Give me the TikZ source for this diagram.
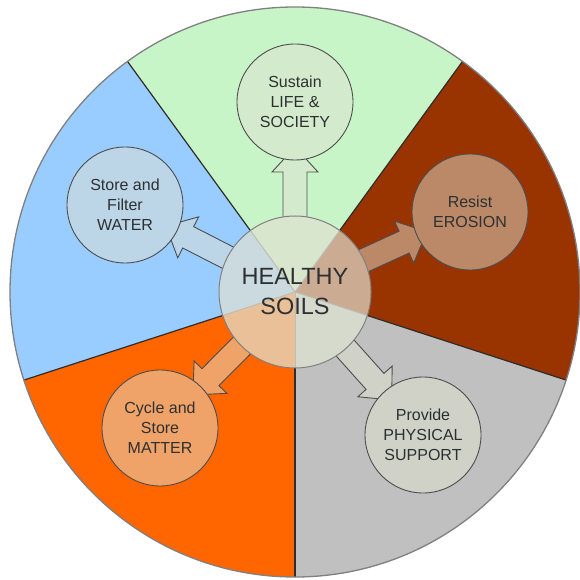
\documentclass[tikz,border=0pt]{standalone}
\usepackage{fontspec}
\setmainfont{Liberation Sans}
\usetikzlibrary{calc}
\pgfdeclarelayer{back}
\pgfdeclarelayer{mid}
\pgfsetlayers{back,mid,main}
\definecolor{sgreen}{RGB}{200,245,200}
\definecolor{sred}{RGB}{153,51,0}
\definecolor{sgray}{RGB}{192,192,192}
\definecolor{sorange}{RGB}{255,102,0}
\definecolor{sblue}{RGB}{153,204,255}
\definecolor{cgreen}{RGB}{212,234,204}
\definecolor{cred}{RGB}{188,137,104}
\definecolor{cgray}{RGB}{208,210,200}
\definecolor{corange}{RGB}{240,163,104}
\definecolor{cblue}{RGB}{188,214,231}
\definecolor{mgreen}{RGB}{217,230,206}
\definecolor{mred}{RGB}{203,172,146}
\definecolor{mgray}{RGB}{214,218,205}
\definecolor{morange}{RGB}{233,192,152}
\definecolor{mblue}{RGB}{203,218,222}
\definecolor{linec}{RGB}{45,45,45}
\definecolor{rimc}{RGB}{128,128,128}
\definecolor{edgec}{RGB}{77,77,77}
\definecolor{txtc}{RGB}{45,48,50}
\definecolor{innerc}{RGB}{190,190,182}
\newcommand\blockarr[2]{%
 \begin{pgfonlayer}{mid}
 \draw[barrow, fill=#2] let \p1=($(#1)-(C)$), \n1={atan2(\y1,\x1)} in
  ($(C)+({\n1-90}:12)$) -- ($(C)+(\n1:120)+({\n1-90}:12)$) -- ($(C)+(\n1:120)+({\n1-90}:23)$) -- ($(C)+(\n1:145)$) -- ($(C)+(\n1:120)+({\n1+90}:23)$) -- ($(C)+(\n1:120)+({\n1+90}:12)$) -- ($(C)+({\n1+90}:12)$) -- cycle;
 \end{pgfonlayer}}
\begin{document}
\begin{tikzpicture}[x=1pt,y=1pt,
  txt/.style={text=txtc, font=\fontsize{16}{20}\selectfont, align=center},
  func/.style={circle, draw=edgec, line width=0.9pt, minimum size=116pt, inner sep=0pt, txt},
  barrow/.style={draw=edgec, line width=0.9pt, line join=miter}]
\useasboundingbox (0,0) rectangle (580,579);
\coordinate (C) at (295,287);
\begin{pgfonlayer}{back}
\foreach \a/\b/\c in {54/126/sgreen, 126/198/sblue, 198/270/sorange, 270/342/sgray, -18/54/sred}
  \fill[\c] (C) -- ($(C)+(\a:285)$) arc[start angle=\a, end angle=\b, radius=285] -- cycle;
\foreach \a in {54,126,198,270,342}
  \draw[linec, line width=1.2pt] (C) -- ($(C)+(\a:285)$);
\draw[rimc, line width=1.3pt] (C) circle[radius=285];
\end{pgfonlayer}
% function circles
\node[func, fill=cgreen] (life) at (295,477) {Sustain\\LIFE \&\\SOCIETY};
\node[func, fill=cred] (erosion) at (470,367) {Resist\\EROSION};
\node[func, fill=cblue] (water) at (125,374) {Store and\\Filter\\WATER};
\node[func, fill=corange] (matter) at (160,151) {Cycle and\\Store\\MATTER};
\node[func, fill=cgray] (support) at (423,144) {Provide\\PHYSICAL\\SUPPORT};
% block arrows
\blockarr{life}{cgreen}
\blockarr{erosion}{cred}
\blockarr{water}{cblue}
\blockarr{matter}{corange}
\blockarr{support}{cgray}
% centre circle
\foreach \a/\b/\c in {54/126/mgreen, 126/198/mblue, 198/270/morange, 270/342/mgray, -18/54/mred}
  \fill[\c] (C) -- ($(C)+(\a:76)$) arc[start angle=\a, end angle=\b, radius=76] -- cycle;
\foreach \a in {54,126,198,270,342}
  \draw[innerc, line width=1pt] (C) -- ($(C)+(\a:76)$);
\node[circle, draw=rimc, line width=1pt, minimum size=152pt, inner sep=0pt, text=txtc,
      font=\fontsize{23.5}{30}\selectfont, align=center] (hs) at (C) {HEALTHY\\SOILS};
\end{tikzpicture}
\end{document}
